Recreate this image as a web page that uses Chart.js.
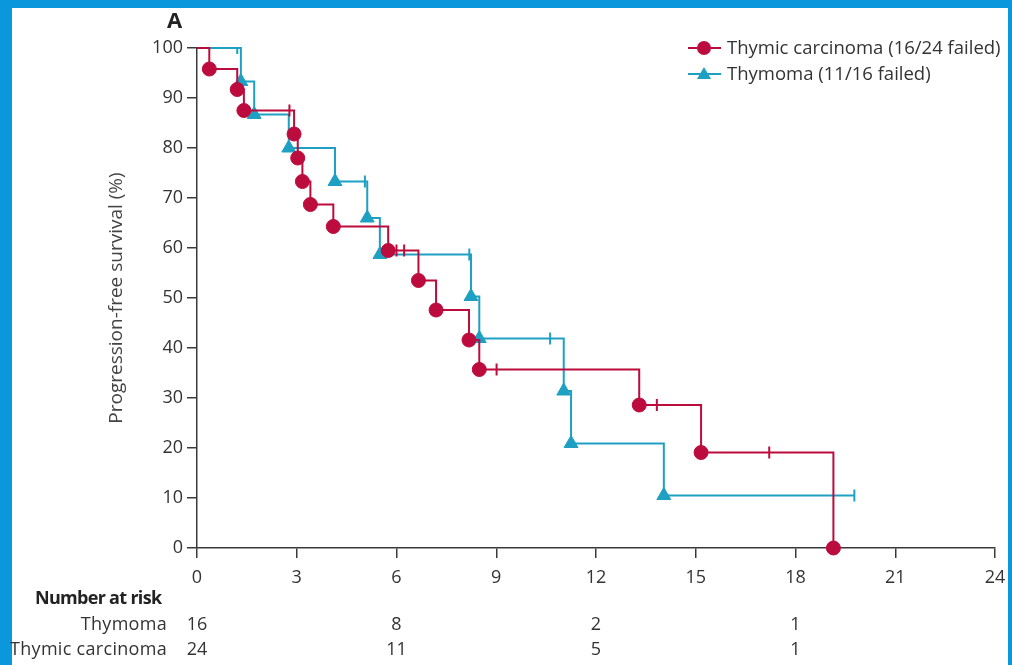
<!DOCTYPE html>
<html>
<head>
<meta charset="utf-8">
<script src="https://cdn.jsdelivr.net/npm/chart.js@4.4.1/dist/chart.umd.min.js"></script>
<style>
  html, body { margin: 0; padding: 0; }
  body { width: 1012px; height: 665px; background: #0a97dc; position: relative; overflow: hidden; font-family: "Open Sans", sans-serif; }
  #panel { position: absolute; left: 12px; top: 8px; width: 996px; height: 657px; background: #fff; }
  #wrap { position: absolute; left: 0; top: 0; width: 1012px; height: 665px; }
  .txt { position: absolute; color: #333; white-space: nowrap; }
  .risk { font-family: "Open Sans", sans-serif; font-size: 18px; }
  .legend { font-size: 18.5px; color: #333; }
</style>
</head>
<body>
<div id="panel"></div>
<div id="wrap"><canvas id="km" width="1012" height="665"></canvas></div>
<script>
// months (x) and progression-free survival % (y)
const carcinomaEventTimes = [0.37, 1.21, 1.41, 2.92, 3.03, 3.17, 3.41, 4.1, 5.75, 6.66, 7.19, 8.18, 8.49, 13.3, 15.16, 19.14];
const carcinomaEventSurv  = [95.8, 91.7, 87.5, 82.8, 78.0, 73.3, 68.7, 64.3, 59.5, 53.5, 47.6, 41.6, 35.7, 28.6, 19.1, 0];
const carcinomaCensorTimes = [2.78, 6.0, 6.23, 9.01, 13.83, 17.21];
const carcinomaCensorSurv  = [87.5, 59.5, 59.5, 35.7, 28.6, 19.1];

const thymomaEventTimes = [1.32, 1.72, 2.76, 4.15, 5.12, 5.5, 8.24, 8.49, 11.03, 11.25, 14.04];
const thymomaEventSurv  = [93.3, 86.7, 80.0, 73.3, 66.0, 58.7, 50.3, 41.9, 31.4, 20.9, 10.5];
const thymomaCensorTimes = [1.21, 5.05, 8.19, 10.62, 19.77];
const thymomaCensorSurv  = [100, 73.3, 58.7, 41.9, 10.5];

const xTicks = [0, 3, 6, 9, 12, 15, 18, 21, 24];
const riskTimes = [0, 6, 12, 18];
const thymomaAtRisk = [16, 8, 2, 1];
const carcinomaAtRisk = [24, 11, 5, 1];

const RED = "#bc0b3d";
const BLUE = "#1ea0c3";
const AXIS = "#3a3a3a";

// build step curve: start at 100, one vertex per event, extend to last censor
const buildCurve = (times, surv, censorTimes) => {
  const pts = [{ x: 0, y: 100, ev: false }];
  times.forEach((t, i) => pts.push({ x: t, y: surv[i], ev: true }));
  const lastC = Math.max(...censorTimes);
  const last = pts[pts.length - 1];
  if (lastC > last.x) pts.push({ x: lastC, y: last.y, ev: false });
  return pts;
};
const censorPts = (times, surv) => times.map((t, i) => ({ x: t, y: surv[i] }));

const carcinomaCurve = buildCurve(carcinomaEventTimes, carcinomaEventSurv, carcinomaCensorTimes);
const thymomaCurve = buildCurve(thymomaEventTimes, thymomaEventSurv, thymomaCensorTimes);

const chart = new Chart(document.getElementById("km").getContext("2d"), {
  type: "line",
  data: {
    datasets: [
      {
        label: "Thymic carcinoma (16/24 failed)",
        data: carcinomaCurve,
        stepped: "before",
        borderColor: RED,
        backgroundColor: RED,
        borderWidth: 2,
        pointStyle: "circle",
        pointRadius: carcinomaCurve.map((p) => (p.ev ? 7 : 0)),
        pointBorderWidth: 1,
        clip: false,
      },
      {
        label: "carcinoma censored",
        data: censorPts(carcinomaCensorTimes, carcinomaCensorSurv),
        showLine: false,
        borderColor: RED,
        pointStyle: "line",
        rotation: 90,
        pointRadius: 6,
        pointBorderWidth: 2,
      },
      {
        label: "Thymoma (11/16 failed)",
        data: thymomaCurve,
        stepped: "before",
        borderColor: BLUE,
        backgroundColor: BLUE,
        borderWidth: 2,
        pointStyle: "triangle",
        pointRadius: thymomaCurve.map((p) => (p.ev ? 8 : 0)),
        pointBorderWidth: 1,
        clip: false,
      },
      {
        label: "thymoma censored",
        data: censorPts(thymomaCensorTimes, thymomaCensorSurv),
        showLine: false,
        borderColor: BLUE,
        pointStyle: "line",
        rotation: 90,
        pointRadius: 6,
        pointBorderWidth: 2,
      },
    ],
  },
  options: {
    responsive: false,
    animation: false,
    layout: { padding: { left: 104, top: 48, right: 17, bottom: 0 } },
    plugins: { legend: { display: false }, tooltip: { enabled: false } },
    scales: {
      x: {
        type: "linear",
        min: 0,
        max: 24,
        afterBuildTicks: (s) => { s.ticks = xTicks.map((v) => ({ value: v })); },
        afterFit: (s) => { s.height = 117; s.paddingLeft = 0; s.paddingRight = 0; },
        ticks: { color: "#333", font: { family: "Open Sans", size: 18 }, padding: 9 },
        grid: { drawOnChartArea: false, drawTicks: true, tickLength: 10, color: AXIS, lineWidth: 1.5 },
        border: { color: AXIS, width: 1.5 },
      },
      y: {
        min: 0,
        max: 100,
        ticks: { stepSize: 10, color: "#333", font: { family: "Open Sans", size: 18 }, padding: 4 },
        afterFit: (s) => { s.width = 93; s.paddingTop = 0; s.paddingBottom = 0; },
        grid: { drawOnChartArea: false, drawTicks: true, tickLength: 10, color: AXIS, lineWidth: 1.5 },
        border: { color: AXIS, width: 1.5 },
        title: { display: true, text: "Progression-free survival (%)", color: "#444", font: { family: "Open Sans", size: 19 }, padding: 1 },
      },
    },
  },
});

// html text: panel letter, legend, number at risk table
const wrap = document.getElementById("wrap");
const addText = (html, left, top, cls, extra) => {
  const d = document.createElement("div");
  d.className = "txt " + (cls || "");
  d.innerHTML = html;
  d.style.left = left + "px";
  d.style.top = top + "px";
  if (extra) Object.assign(d.style, extra);
  wrap.appendChild(d);
  return d;
};

addText("A", 167, 4, "", { fontWeight: "bold", fontSize: "22px", color: "#222" });

// legend
const legendItems = [
  { text: "Thymic carcinoma (16/24 failed)", color: RED, shape: "circle", y: 48 },
  { text: "Thymoma (11/16 failed)", color: BLUE, shape: "triangle", y: 74 },
];
legendItems.forEach((it) => {
  addText("", 688, it.y - 1, "", { width: "33px", height: "2px", background: it.color });
  if (it.shape === "circle") {
    addText("", 697, it.y - 7, "", { width: "14px", height: "14px", borderRadius: "50%", background: it.color });
  } else {
    addText("", 697, it.y - 7, "", { width: "0", height: "0", borderLeft: "7px solid transparent", borderRight: "7px solid transparent", borderBottom: "12px solid " + it.color });
  }
  addText(it.text, 727, it.y - 14, "legend");
});

// number at risk
const xs = chart.scales.x;
addText("Number at risk", 35, 585, "risk", { fontWeight: "bold", color: "#222", letterSpacing: "-0.7px" });
const rows = [
  { name: "Thymoma", vals: thymomaAtRisk, top: 611 },
  { name: "Thymic carcinoma", vals: carcinomaAtRisk, top: 636 },
];
rows.forEach((r) => {
  addText(r.name, 0, r.top, "risk", { width: "167px", textAlign: "right", letterSpacing: "0.3px" });
  r.vals.forEach((v, i) => {
    const px = xs.getPixelForValue(riskTimes[i]);
    addText(String(v), px - 20, r.top, "risk", { width: "40px", textAlign: "center" });
  });
});
</script>
</body>
</html>
